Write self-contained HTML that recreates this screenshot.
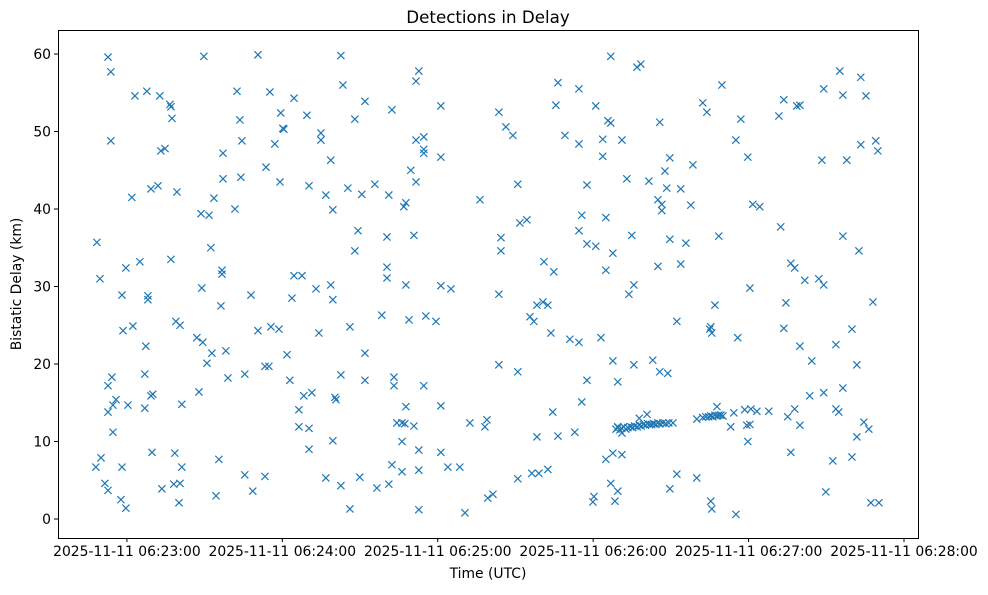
<!DOCTYPE html>
<html><head><meta charset="utf-8"><style>
html,body{margin:0;padding:0;background:#fff;}
svg text{font-family:"DejaVu Sans","Liberation Sans",sans-serif;fill:#000;}
</style></head><body>
<svg id="chart" width="988" height="590" viewBox="0 0 988 590" xmlns="http://www.w3.org/2000/svg">
<rect x="0" y="0" width="988" height="590" fill="#fff"/>
<text x="488" y="23" font-size="16.7" text-anchor="middle">Detections in Delay</text>
<g id="marks"></g>
<g id="axes"></g>
<rect x="58.5" y="30.5" width="860" height="508" fill="none" stroke="#000" stroke-width="1"/>
<text x="488" y="578" font-size="13.9" text-anchor="middle">Time (UTC)</text>
<text transform="translate(21,284) rotate(-90)" font-size="13.9" text-anchor="middle">Bistatic Delay (km)</text>
</svg>
<script>
// seconds after 2025-11-11 06:23:00 UTC
const times = [-11.6,-10.4,-12.0,-10.0,-8.5,-7.3,-7.3,-7.3,-5.8,-5.4,-5.4,-4.2,-7.3,-6.2,-6.2,-2.3,-1.9,-0.4,-1.9,-1.5,-0.4,0.4,2.3,1.9,3.1,5.0,6.9,6.9,7.3,7.7,8.1,8.1,9.3,9.7,10.0,9.3,12.0,12.7,13.1,14.7,13.5,16.6,17.0,17.0,17.4,18.1,18.5,18.9,19.3,20.5,20.1,20.5,21.2,21.2,27.0,27.8,28.6,28.9,29.3,29.7,30.9,31.7,32.4,32.8,33.6,34.4,35.5,36.3,36.7,36.7,37.1,37.1,38.2,39.0,41.7,42.5,43.6,44.0,44.4,45.5,45.5,47.9,48.6,50.6,50.6,53.3,53.3,53.7,54.8,55.2,55.6,57.1,58.7,59.1,59.4,60.2,60.6,
82.6,83.4,112.7,111.6,64.5,91.9,69.5,88.0,102.3,121.2,74.9,74.9,111.6,114.6,114.6,114.6,121.2,78.7,109.6,111.6,70.3,76.8,85.3,90.7,95.7,101.1,79.5,107.7,106.9,136.3,89.2,100.4,110.8,88.0,64.5,67.6,100.4,100.4,73.0,78.7,107.7,121.2,125.1,63.7,79.5,98.4,108.9,115.4,119.3,74.1,86.1,61.8,91.9,62.9,82.6,91.9,103.1,103.1,114.6,68.3,71.4,80.3,80.7,66.4,107.7,121.2,66.4,70.3,104.2,106.2,107.3,110.8,132.4,138.2,139.0,70.3,79.5,106.2,112.7,121.2,102.3,106.2,112.7,123.9,128.5,76.8,82.6,89.9,96.5,101.1,86.1,112.7,130.5,139.3,
186.8,196.9,198.4,166.4,174.5,165.6,181.0,143.6,185.7,186.8,205.7,146.3,149.0,169.1,174.5,183.7,191.1,183.7,209.6,207.7,218.5,193.0,201.5,208.4,213.8,150.9,177.6,205.0,206.5,206.5,217.7,175.6,184.9,151.7,154.4,174.5,144.4,144.4,194.9,209.6,215.8,177.6,181.0,187.6,161.0,164.8,184.9,205.0,213.8,143.6,193.8,195.7,158.3,160.6,162.5,155.6,157.1,212.3,163.7,171.0,174.5,183.0,143.6,150.9,187.6,195.7,203.0,205.7,208.8,177.6,189.5,175.6,164.4,158.3,166.4,172.9,220.0,
188.8,189.6,190.3,191.0,191.8,192.6,193.4,194.5,195.3,196.0,197.0,197.8,198.6,199.4,200.2,201.0,201.8,202.6,203.4,204.2,205.0,205.8,206.9,208.0,209.2,210.8,197.8,200.8,191.1,189.5,
184.9,187.6,191.1,150.9,156.3,159.0,162.5,141.3,179.9,180.3,186.8,189.5,188.4,209.6,212.3,220.0,
275.2,283.3,229.7,269.0,276.4,285.3,222.3,223.9,253.6,258.6,259.8,251.7,237.0,235.1,239.7,283.3,289.1,289.9,268.3,277.9,241.6,244.3,252.4,276.4,282.6,228.5,256.3,257.8,261.7,267.1,269.0,240.5,227.0,254.4,288.0,225.4,225.8,225.0,235.8,253.6,279.9,259.8,273.7,264.4,281.8,276.4,263.6,269.0,273.7,274.8,257.8,247.8,238.5,240.9,243.2,234.3,233.1,239.3,240.5,239.7,255.1,259.8,
222.3,223.5,224.6,225.4,226.2,227.0,227.8,228.5,229.3,230.1,227.8,284.5,286.4,281.8,279.9,272.5,256.3,269.8,225.4,225.8,235.1,287.2,290.3];
const delays = [35.7,31.0,6.7,7.9,4.6,3.7,17.2,13.8,18.3,14.7,11.2,15.4,59.6,57.7,48.8,2.5,6.7,1.4,28.9,24.3,32.4,14.7,24.9,41.5,54.6,33.2,14.3,18.7,22.3,55.2,28.8,28.3,15.9,8.6,16.1,42.6,43.0,54.6,47.5,47.8,3.9,53.5,33.5,53.2,51.7,4.5,8.5,25.5,42.2,25.0,2.1,4.6,6.7,14.8,23.4,16.4,39.4,29.8,22.8,59.7,20.1,39.2,35.0,21.4,41.4,3.0,7.7,27.5,31.6,32.1,47.2,43.9,21.7,18.2,40.0,55.2,51.5,44.1,48.8,18.7,5.7,28.9,3.6,59.9,24.3,5.5,19.7,45.4,19.7,55.1,24.8,48.4,24.5,43.5,52.4,50.4,50.3,
59.8,56.0,57.8,56.5,54.3,53.9,52.1,51.6,52.8,53.3,49.8,48.9,48.9,49.3,47.7,47.2,46.7,46.3,45.0,43.5,43.0,41.8,42.7,41.9,43.2,41.8,39.9,40.8,40.3,41.2,37.2,36.4,36.6,34.6,31.4,31.4,32.5,31.1,29.7,30.2,30.2,30.1,29.7,28.5,28.3,26.3,25.7,26.2,25.5,24.0,24.8,21.2,21.4,17.9,18.6,17.9,18.3,17.2,17.2,15.9,16.3,15.7,15.4,14.1,14.5,14.6,11.9,11.7,12.4,12.4,12.3,12.0,12.4,11.9,12.8,9.0,10.1,10.0,8.9,8.6,7.0,6.1,6.3,6.7,6.7,5.3,4.3,5.4,4.0,4.5,1.3,1.2,0.8,2.7,
59.7,58.3,58.7,56.3,55.5,53.4,53.3,52.5,51.4,51.1,51.2,50.6,49.5,49.5,48.4,49.0,48.9,46.8,46.6,44.9,45.7,43.9,43.6,42.7,42.6,43.2,43.1,41.2,40.6,39.8,40.5,39.2,38.9,38.2,38.6,37.2,36.3,34.6,36.6,36.1,35.6,35.5,35.2,34.3,33.2,31.9,32.1,32.6,32.9,29.0,29.0,30.2,27.6,28.0,27.6,26.1,25.5,25.5,24.0,23.2,22.8,23.4,19.9,19.0,20.4,19.9,20.5,19.0,18.8,17.9,17.7,15.1,13.8,10.6,10.7,11.2,12.9,
11.6,11.8,11.5,11.7,11.9,11.6,11.8,11.9,11.8,12.0,11.9,12.1,12.0,12.2,12.1,12.3,12.2,12.2,12.3,12.2,12.4,12.3,12.4,12.3,12.4,12.4,13.0,13.5,11.1,11.9,
7.7,8.5,8.3,5.2,5.9,5.9,6.4,3.2,2.2,2.9,4.6,3.6,2.3,3.9,5.8,5.3,
57.8,57.0,56.0,55.5,54.7,54.6,53.7,52.5,54.1,53.3,53.4,52.0,51.6,48.9,46.7,48.3,48.8,47.5,46.3,46.3,40.6,40.3,37.7,36.5,34.6,36.5,33.0,32.4,30.8,31.0,30.2,29.8,27.6,27.9,28.0,24.8,24.0,24.5,23.4,24.6,24.5,22.3,22.5,20.4,19.9,16.9,15.9,16.3,14.2,13.8,14.2,13.9,14.1,14.2,13.9,13.7,11.9,12.1,12.2,10.0,13.2,12.1,
13.1,13.2,13.2,13.3,13.2,13.4,13.3,13.4,13.4,13.3,14.5,12.5,11.6,10.6,8.0,7.5,8.6,3.5,2.3,1.3,0.6,2.1,2.1];
const xTickSeconds = [0,60,120,180,240,300];
const xTickLabels = ["2025-11-11 06:23:00","2025-11-11 06:24:00","2025-11-11 06:25:00","2025-11-11 06:26:00","2025-11-11 06:27:00","2025-11-11 06:28:00"];
const yTicks = [0,10,20,30,40,50,60];

const NS='http://www.w3.org/2000/svg';
const PL=58, PR=918, PT=30, PB=538;
const X0=-26.6, X1=305.4, Y0=-2.45, Y1=63.1;
function xs(t){return PL+(t-X0)/(X1-X0)*(PR-PL);}
function ys(v){return PB-(v-Y0)/(Y1-Y0)*(PB-PT);}
const marks=document.getElementById('marks');
const axes=document.getElementById('axes');
const n=Math.min(times.length,delays.length);
for(let i=0;i<n;i++){
  const cx=xs(times[i]), cy=ys(delays[i]), r=3.6;
  const p=document.createElementNS(NS,'path');
  p.setAttribute('d','M'+(cx-r)+' '+(cy-r)+'L'+(cx+r)+' '+(cy+r)+'M'+(cx-r)+' '+(cy+r)+'L'+(cx+r)+' '+(cy-r));
  p.setAttribute('stroke','#1f77b4');
  p.setAttribute('stroke-width','1.2');
  p.setAttribute('fill','none');
  
  
  marks.appendChild(p);
}
xTickSeconds.forEach((s,i)=>{
  const x=xs(s);
  const l=document.createElementNS(NS,'line');
  l.setAttribute('x1',x);l.setAttribute('x2',x);l.setAttribute('y1',PB);l.setAttribute('y2',PB+4);
  l.setAttribute('stroke','#000');
  
  
  axes.appendChild(l);
  const t=document.createElementNS(NS,'text');
  t.setAttribute('x',x);t.setAttribute('y',PB+18);t.setAttribute('font-size','13.9');t.setAttribute('text-anchor','middle');
  t.textContent=xTickLabels[i];
  
  
  axes.appendChild(t);
});
yTicks.forEach(v=>{
  const y=ys(v);
  const l=document.createElementNS(NS,'line');
  l.setAttribute('x1',PL-4);l.setAttribute('x2',PL);l.setAttribute('y1',y);l.setAttribute('y2',y);
  l.setAttribute('stroke','#000');
  
  
  axes.appendChild(l);
  const t=document.createElementNS(NS,'text');
  t.setAttribute('x',PL-7);t.setAttribute('y',y+5);t.setAttribute('font-size','13.9');t.setAttribute('text-anchor','end');
  t.textContent=String(v);
  
  
  axes.appendChild(t);
});
</script>
</body></html>
